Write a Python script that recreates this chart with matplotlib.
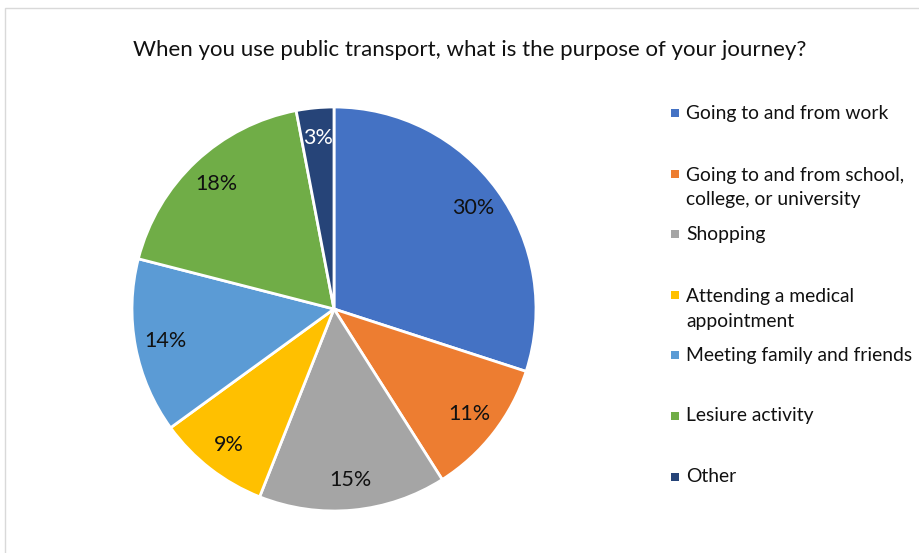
import matplotlib
matplotlib.use("Agg")
import matplotlib.pyplot as plt
from matplotlib.patches import Rectangle

plt.rcParams['font.family'] = ['Lato', 'DejaVu Sans']

labels = ['Going to and from work',
          'Going to and from school,\ncollege, or university',
          'Shopping',
          'Attending a medical\nappointment',
          'Meeting family and friends',
          'Lesiure activity',
          'Other']
values = [30, 11, 15, 9, 14, 18, 3]
colors = ['#4472C4', '#ED7D31', '#A5A5A5', '#FFC000', '#5B9BD5', '#70AD47', '#264478']
title = 'When you use public transport, what is the purpose of your journey?'

W, H = 919, 553
fig = plt.figure(figsize=(W / 100, H / 100), dpi=100)

# chart frame
fig.patches.append(Rectangle((5 / W, -0.1), 1.2, 1.1 - 8 / H, transform=fig.transFigure,
                             fill=False, edgecolor='#D9D9D9', linewidth=1))

cx, cy, r = 334, 309, 202
ax = fig.add_axes([(cx - r) / W, (H - cy - r) / H, 2 * r / W, 2 * r / H])
wedges, texts, autotexts = ax.pie(values, colors=colors, startangle=90, counterclock=False,
                                  autopct='%1.0f%%', pctdistance=0.85,
                                  wedgeprops=dict(edgecolor='white', linewidth=2))
for t in autotexts:
    t.set_fontsize(15.5)
    t.set_color('#111111')
autotexts[-1].set_color('white')
ax.set_xlim(-1, 1)
ax.set_ylim(-1, 1)
ax.set_aspect('equal')

fig.text(470 / W, 1 - 50 / H, title, ha='center', va='center', fontsize=16, color='#111111')

# legend
y0, step = 113, 60.6
for i, (lab, col) in enumerate(zip(labels, colors)):
    y = y0 + i * step
    fig.patches.append(Rectangle((671 / W, 1 - (y + 4) / H), 8 / W, 8 / H,
                                 transform=fig.transFigure, facecolor=col, edgecolor='none'))
    t = fig.text(686 / W, 1 - y / H, lab, ha='left', va='center', fontsize=13.9,
                 color='#111111', linespacing=1.55)
    # multi-line labels are anchored on the first line
    if '\n' in lab:
        t.set_va('top')
        t.set_y(1 - (y - 7) / H)

fig.savefig('out.png', dpi=100)
